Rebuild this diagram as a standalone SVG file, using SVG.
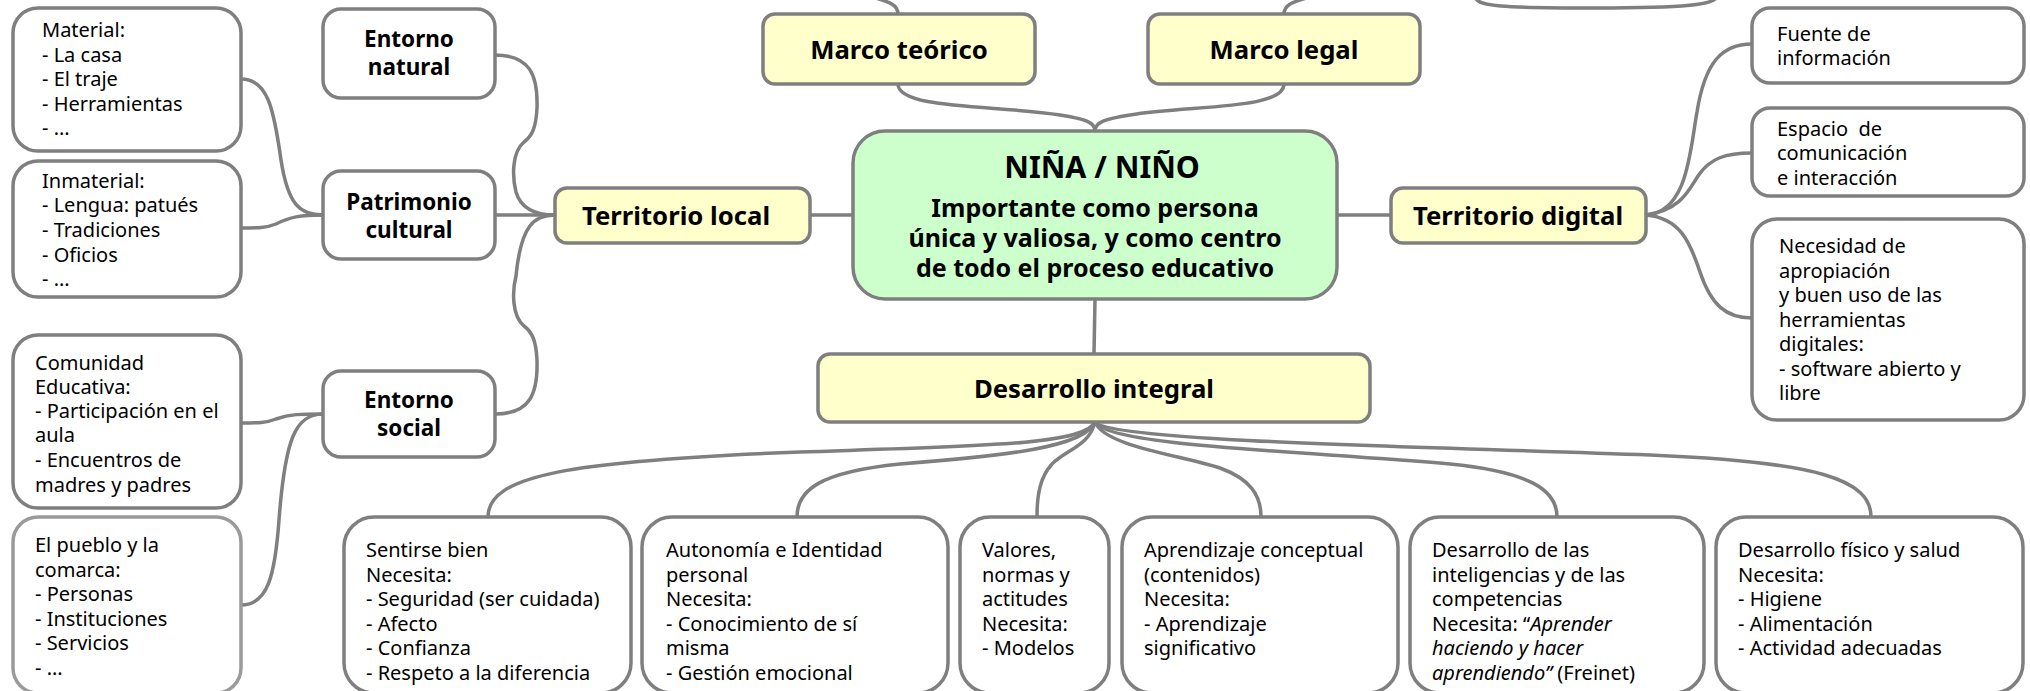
<svg xmlns="http://www.w3.org/2000/svg" width="2030" height="691" viewBox="0 0 2030 691">
<style>
.box{fill:#fff;stroke:#7f7f7f;stroke-width:3.5}
.lt{stroke:#9a9a9a}
.yel{fill:#ffffcc;stroke:#7f7f7f;stroke-width:3.5}
.grn{fill:#ccffcc;stroke:#7f7f7f;stroke-width:3.5}
.c{fill:none;stroke:#7f7f7f;stroke-width:3.5}
text{font-family:"Noto Sans","DejaVu Sans",sans-serif;fill:#000}
.t{font-size:20px}
.b{font-weight:bold;font-size:22.5px;text-anchor:middle}
.bl{font-weight:bold;font-size:25.7px;text-anchor:middle}
.ti{font-weight:bold;font-size:30.4px;text-anchor:middle}
.st{font-weight:bold;font-size:25px;text-anchor:middle}
.i{font-style:italic}
</style>
<g id="connectors">
<path class="c" d="M898,14 C898,5 890,2 872,-3"/>
<path class="c" d="M1284,14 C1284,5 1292,2 1310,-3"/>
<path class="c" d="M1476,-2 C1478,6 1500,8 1595,8 C1690,8 1712,4 1716,-2"/>
<path class="c" d="M898,84 C898,110 1000,105 1060,115 C1085,119 1095,122 1095,131"/>
<path class="c" d="M1284,84 C1284,110 1190,105 1130,115 C1105,119 1095,122 1095,131"/>
<path class="c" d="M810,215 L853,215"/>
<path class="c" d="M1337,215 L1391,215"/>
<path class="c" d="M1095,299 L1094,354"/>
<path class="c" d="M495,55 C530,55 538,75 537,108 C536,128 532,136 524,142 C512,152 512,176 516,192 C521,209 535,215 555,215"/>
<path class="c" d="M495,215 L555,215"/>
<path class="c" d="M495,414 C530,414 538,394 537,360 C536,340 532,332 524,326 C512,316 512,292 516,276 C521,224 535,215 555,215"/>
<path class="c" d="M241,79 C268,79 274,110 281,160 C288,205 300,215 323,215"/>
<path class="c" d="M241,228 C258,228 266,228 276,224 C290,217 300,215 323,215"/>
<path class="c" d="M241,423 C258,423 266,423 276,419 C290,414 300,414 323,414"/>
<path class="c" d="M241,605 C268,605 275,575 279,520 C285,440 295,414 323,414"/>
<path class="c" d="M1646,215 C1688,212 1690,150 1697,112 C1705,62 1722,44 1752,44"/>
<path class="c" d="M1646,215 C1680,210 1688,192 1698,176 C1710,158 1726,153 1752,153"/>
<path class="c" d="M1646,215 C1680,218 1690,242 1700,272 C1711,305 1726,318 1752,318"/>
<path class="c" d="M1095,422 C1085,445 980,446 800,452 C570,461 488,475 488,517"/>
<path class="c" d="M1095,422 C1085,448 1000,456 900,464 C820,472 797,490 797,517"/>
<path class="c" d="M1095,422 C1090,445 1066,450 1052,464 C1040,477 1037,495 1037,517"/>
<path class="c" d="M1095,422 C1104,446 1180,455 1220,468 C1250,479 1261,495 1261,517"/>
<path class="c" d="M1095,422 C1108,446 1300,451 1450,464 C1530,472 1557,490 1557,517"/>
<path class="c" d="M1095,422 C1110,441 1400,446 1650,455 C1820,462 1871,480 1871,517"/>
</g>
<g id="marco-teorico"><rect class="yel" x="763" y="14" width="272" height="70" rx="12"/><text class="bl" x="899" y="59">Marco teórico</text></g>
<g id="marco-legal"><rect class="yel" x="1148" y="14" width="272" height="70" rx="12"/><text class="bl" x="1284" y="59">Marco legal</text></g>
<g id="nina-nino"><rect class="grn" x="853" y="131" width="484" height="168" rx="32"/>
<text class="ti" x="1102" y="178">NIÑA / NIÑO</text>
<text class="st" x="1095" y="217">Importante como persona</text>
<text class="st" x="1095" y="247">única y valiosa, y como centro</text>
<text class="st" x="1095" y="277">de todo el proceso educativo</text></g>
<g id="territorio-local"><rect class="yel" x="555" y="188" width="255" height="55" rx="12"/><text class="bl" x="676" y="225">Territorio local</text></g>
<g id="territorio-digital"><rect class="yel" x="1391" y="188" width="255" height="55" rx="12"/><text class="bl" x="1518" y="225">Territorio digital</text></g>
<g id="desarrollo-integral"><rect class="yel" x="818" y="354" width="552" height="68" rx="12"/><text class="bl" x="1094" y="398">Desarrollo integral</text></g>
<g id="entorno-natural"><rect class="box" x="323" y="9" width="172" height="89" rx="18"/><text class="b" x="409" y="47">Entorno</text><text class="b" x="409" y="75">natural</text></g>
<g id="patrimonio-cultural"><rect class="box" x="323" y="171" width="172" height="88" rx="18"/><text class="b" x="409" y="210">Patrimonio</text><text class="b" x="409" y="238">cultural</text></g>
<g id="entorno-social"><rect class="box" x="323" y="371" width="172" height="86" rx="18"/><text class="b" x="409" y="408">Entorno</text><text class="b" x="409" y="436">social</text></g>
<g id="material"><rect class="box" x="13" y="8" width="228" height="143" rx="25"/>
<text class="t"><tspan x="42" y="37">Material:</tspan><tspan x="42" y="62">- La casa</tspan><tspan x="42" y="86">- El traje</tspan><tspan x="42" y="111">- Herramientas</tspan><tspan x="42" y="135">- ...</tspan></text></g>
<g id="inmaterial"><rect class="box" x="13" y="161" width="228" height="136" rx="25"/>
<text class="t"><tspan x="42" y="188">Inmaterial:</tspan><tspan x="42" y="212">- Lengua: patués</tspan><tspan x="42" y="237">- Tradiciones</tspan><tspan x="42" y="262">- Oficios</tspan><tspan x="42" y="286">- ...</tspan></text></g>
<g id="comunidad-educativa"><rect class="box" x="13" y="335" width="228" height="173" rx="25"/>
<text class="t"><tspan x="35" y="370">Comunidad</tspan><tspan x="35" y="394">Educativa:</tspan><tspan x="35" y="418">- Participación en el</tspan><tspan x="35" y="442">aula</tspan><tspan x="35" y="467">- Encuentros de</tspan><tspan x="35" y="492">madres y padres</tspan></text></g>
<g id="pueblo-comarca"><rect class="box lt" x="13" y="517" width="228" height="176" rx="25"/>
<text class="t"><tspan x="35" y="552">El pueblo y la</tspan><tspan x="35" y="577">comarca:</tspan><tspan x="35" y="601">- Personas</tspan><tspan x="35" y="626">- Instituciones</tspan><tspan x="35" y="650">- Servicios</tspan><tspan x="35" y="675">- ...</tspan></text></g>
<g id="fuente"><rect class="box" x="1752" y="8" width="272" height="75" rx="18"/>
<text class="t"><tspan x="1777" y="41">Fuente de</tspan><tspan x="1777" y="65">información</tspan></text></g>
<g id="espacio"><rect class="box" x="1752" y="108" width="272" height="88" rx="18"/>
<text class="t"><tspan x="1777" y="136">Espacio&#160; de</tspan><tspan x="1777" y="160">comunicación</tspan><tspan x="1777" y="185">e interacción</tspan></text></g>
<g id="necesidad"><rect class="box" x="1752" y="219" width="272" height="201" rx="25"/>
<text class="t"><tspan x="1779" y="253">Necesidad de</tspan><tspan x="1779" y="278">apropiación</tspan><tspan x="1779" y="302">y buen uso de las</tspan><tspan x="1779" y="327">herramientas</tspan><tspan x="1779" y="351">digitales:</tspan><tspan x="1779" y="376">- software abierto y</tspan><tspan x="1779" y="400">libre</tspan></text></g>
<g id="sentirse-bien"><rect class="box" x="344" y="517" width="287" height="176" rx="30"/>
<text class="t"><tspan x="366" y="557">Sentirse bien</tspan><tspan x="366" y="582">Necesita:</tspan><tspan x="366" y="606">- Seguridad (ser cuidada)</tspan><tspan x="366" y="631">- Afecto</tspan><tspan x="366" y="655">- Confianza</tspan><tspan x="366" y="680">- Respeto a la diferencia</tspan></text></g>
<g id="autonomia"><rect class="box" x="642" y="517" width="306" height="176" rx="30"/>
<text class="t"><tspan x="666" y="557">Autonomía e Identidad</tspan><tspan x="666" y="582">personal</tspan><tspan x="666" y="606">Necesita:</tspan><tspan x="666" y="631">- Conocimiento de sí</tspan><tspan x="666" y="655">misma</tspan><tspan x="666" y="680">- Gestión emocional</tspan></text></g>
<g id="valores"><rect class="box" x="960" y="517" width="149" height="176" rx="30"/>
<text class="t"><tspan x="982" y="557">Valores,</tspan><tspan x="982" y="582">normas y</tspan><tspan x="982" y="606">actitudes</tspan><tspan x="982" y="631">Necesita:</tspan><tspan x="982" y="655">- Modelos</tspan></text></g>
<g id="aprendizaje"><rect class="box" x="1122" y="517" width="276" height="176" rx="30"/>
<text class="t"><tspan x="1144" y="557">Aprendizaje conceptual</tspan><tspan x="1144" y="582">(contenidos)</tspan><tspan x="1144" y="606">Necesita:</tspan><tspan x="1144" y="631">- Aprendizaje</tspan><tspan x="1144" y="655">significativo</tspan></text></g>
<g id="inteligencias"><rect class="box" x="1410" y="517" width="294" height="176" rx="30"/>
<text class="t"><tspan x="1432" y="557">Desarrollo de las</tspan><tspan x="1432" y="582">inteligencias y de las</tspan><tspan x="1432" y="606">competencias</tspan><tspan x="1432" y="631">Necesita: “</tspan><tspan class="i">Aprender</tspan><tspan class="i" x="1432" y="655">haciendo y hacer</tspan><tspan class="i" x="1432" y="680">aprendiendo”</tspan><tspan> (Freinet)</tspan></text></g>
<g id="fisico"><rect class="box" x="1716" y="517" width="307" height="176" rx="30"/>
<text class="t"><tspan x="1738" y="557">Desarrollo físico y salud</tspan><tspan x="1738" y="582">Necesita:</tspan><tspan x="1738" y="606">- Higiene</tspan><tspan x="1738" y="631">- Alimentación</tspan><tspan x="1738" y="655">- Actividad adecuadas</tspan></text></g>
</svg>
